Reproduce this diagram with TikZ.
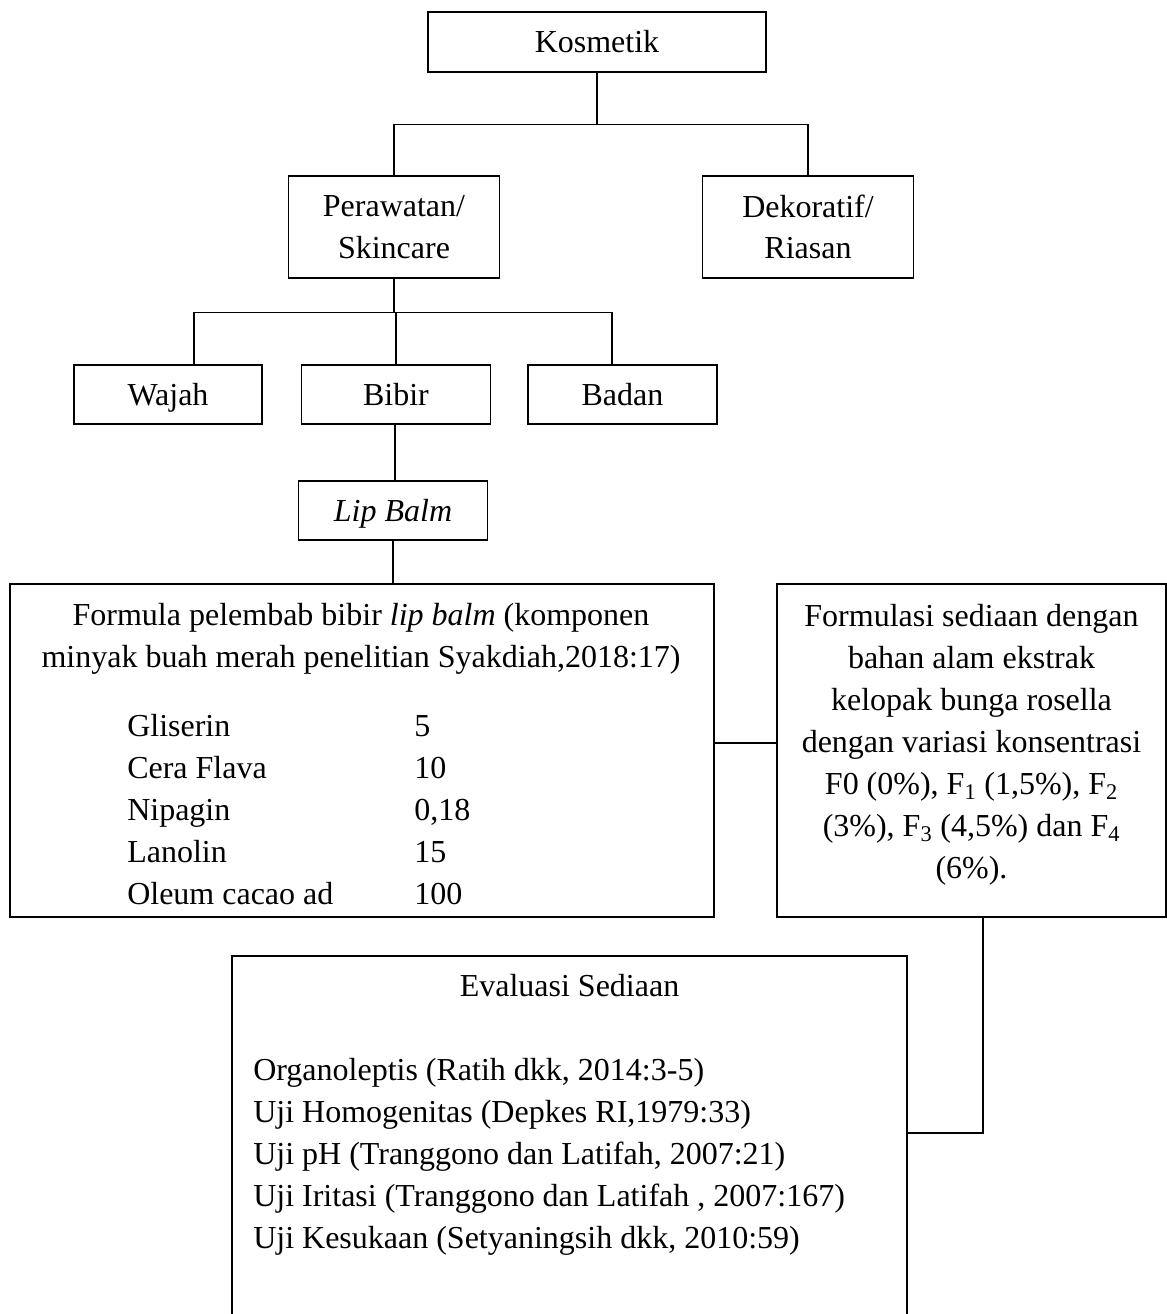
\documentclass[tikz,border=0pt]{standalone}
\usepackage{fontspec}
\setmainfont{Liberation Serif}
\begin{document}
\begin{tikzpicture}[x=0.75pt,y=-0.75pt,
  every node/.style={font=\fontsize{24}{31}\selectfont},
  box/.style={draw, line width=1.1pt, inner sep=0pt, align=center},
  onebox/.style={box, text height=15.9pt, text depth=0pt},
  conn/.style={line width=1.1pt},
  txt/.style={inner sep=0pt}]
\clip (0,0) rectangle (1167,1314);
% boxes
\node[onebox, minimum width=338*0.75pt, minimum height=60*0.75pt] (kos) at (597,42) {Kosmetik};
\node[box, minimum width=211*0.75pt, minimum height=102*0.75pt] (per) at (394,227) {Perawatan/\\Skincare};
\node[box, minimum width=211*0.75pt, minimum height=102*0.75pt] (dek) at (808,227) {Dekoratif/\\Riasan};
\node[onebox, minimum width=188*0.75pt, minimum height=59*0.75pt] (waj) at (168,394.5) {Wajah};
\node[onebox, minimum width=189*0.75pt, minimum height=59*0.75pt] (bib) at (396,394.5) {Bibir};
\node[onebox, minimum width=189*0.75pt, minimum height=59*0.75pt] (bad) at (622.5,394.5) {Badan};
\node[onebox, minimum width=189*0.75pt, minimum height=59*0.75pt] (lip) at (393,510.5) {\textit{Lip Balm}};
\node[box, minimum width=704*0.75pt, minimum height=333*0.75pt] (form) at (362,750.5) {};
\node[box, minimum width=389*0.75pt, minimum height=333*0.75pt] (fml) at (971.5,750.5) {};
\node[box, minimum width=675*0.75pt, minimum height=380*0.75pt] (eva) at (569.5,1146) {};
% formula text
\node[txt, anchor=base] (f1) at (361,625) {Formula pelembab bibir \textit{lip balm} (komponen};
\node[txt, anchor=base] (f2) at (361,667) {minyak buah merah penelitian Syakdiah,2018:17)};
\node[txt, anchor=base west] (g1) at (127,736) {Gliserin};
\node[txt, anchor=base west] (g2) at (127,778) {Cera Flava};
\node[txt, anchor=base west] (g3) at (127,820) {Nipagin};
\node[txt, anchor=base west] (g4) at (127,862) {Lanolin};
\node[txt, anchor=base west] (g5) at (127,904) {Oleum cacao ad};
\node[txt, anchor=base west] (v1) at (414,736) {5};
\node[txt, anchor=base west] (v2) at (414,778) {10};
\node[txt, anchor=base west] (v3) at (414,820) {0,18};
\node[txt, anchor=base west] (v4) at (414,862) {15};
\node[txt, anchor=base west] (v5) at (414,904) {100};
% formulasi text
\node[txt, align=center, font=\fontsize{24}{31.5}\selectfont] (ft) at (971.5,745) {Formulasi sediaan dengan\\bahan alam ekstrak\\kelopak bunga rosella\\dengan variasi konsentrasi\\F0 (0\%), F\textsubscript{1} (1,5\%), F\textsubscript{2}\\(3\%), F\textsubscript{3} (4,5\%) dan F\textsubscript{4}\\(6\%).};
% evaluasi text
\node[txt, anchor=base] (e0) at (569.5,996) {Evaluasi Sediaan};
\node[txt, anchor=base west] (e1) at (253,1080) {Organoleptis (Ratih dkk, 2014:3-5)};
\node[txt, anchor=base west] (e2) at (253,1122) {Uji Homogenitas (Depkes RI,1979:33)};
\node[txt, anchor=base west] (e3) at (253,1164) {Uji pH (Tranggono dan Latifah, 2007:21)};
\node[txt, anchor=base west] (e4) at (253,1206) {Uji Iritasi (Tranggono dan Latifah , 2007:167)};
\node[txt, anchor=base west] (e5) at (253,1248) {Uji Kesukaan (Setyaningsih dkk, 2010:59)};
% connectors
\draw[conn] (kos.south) -- ++(0,52) coordinate (j1);
\draw[conn] (per.north) |- (j1) -| (dek.north);
\draw[conn] (per.south) -- ++(0,34) coordinate (j2);
\draw[conn] ([xshift=26*0.75pt]waj.north) |- (j2);
\draw[conn] ([xshift=-10.5*0.75pt]bad.north) |- (j2);
\draw[conn] (bib.north) -- (bib.north |- j2);
\draw[conn] ([xshift=-1*0.75pt]bib.south) -- ([xshift=-1*0.75pt]bib.south |- lip.north);
\draw[conn] (lip.south) -- (lip.south |- form.north);
\draw[conn] ([yshift=7.5*0.75pt]form.east) -- ([yshift=7.5*0.75pt]form.east -| fml.west);
\draw[conn] ([xshift=11.5*0.75pt]fml.south) |- ([yshift=13*0.75pt]eva.east);
\end{tikzpicture}
\end{document}
